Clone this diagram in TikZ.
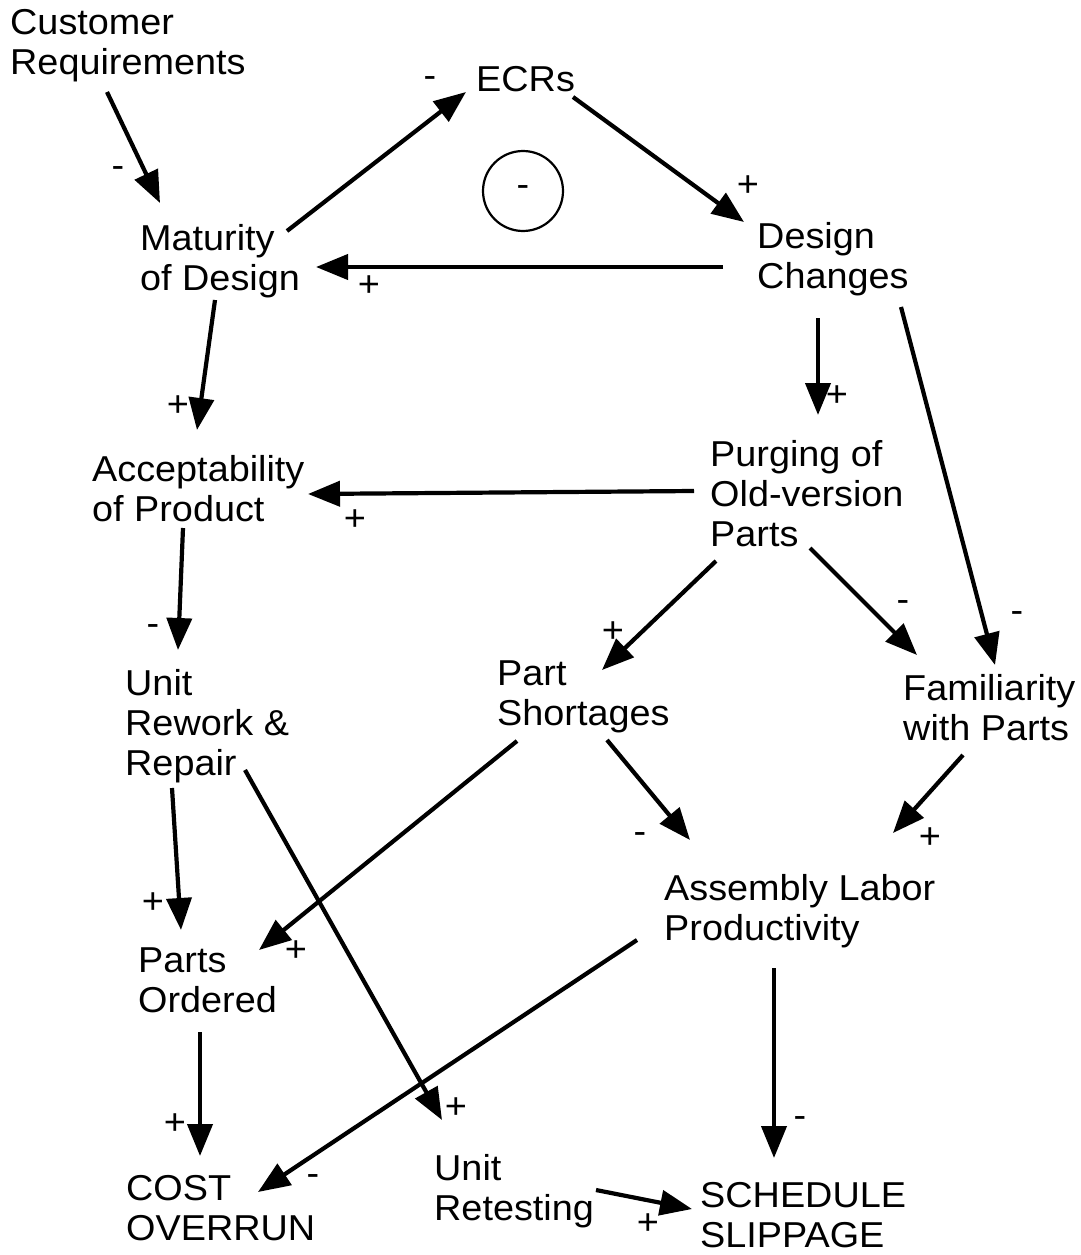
\documentclass[tikz,border=0pt]{standalone}
\usepackage{fontspec}
\setmainfont[FakeStretch=1.05]{Liberation Sans}
\usetikzlibrary{arrows.meta}
\begin{document}
\begin{tikzpicture}[x=1pt,y=-1pt,
  lbl/.style={inner sep=0pt,anchor=west,align=left,font=\fontsize{36}{40}\selectfont},
  sgn/.style={inner sep=0pt,font=\fontsize{36}{38}\selectfont},
  conn/.style={line width=4.2pt,-{Triangle[length=32pt,width=25pt]}}]
\useasboundingbox (0,0) rectangle (1081,1255);
% variables
\node[lbl] (cr)  at (10,46)    {Customer\\Requirements};
\node[lbl] (ecr) at (476,79)   {ECRs};
\node[lbl] (mat) at (140,261)  {Maturity\\of Design};
\node[lbl] (dc)  at (757,259)  {Design\\Changes};
\node[lbl] (acc) at (92,489)   {Acceptability\\of Product};
\node[lbl] (pur) at (710,494)  {Purging of\\Old-version\\Parts};
\node[lbl] (urr) at (125,726)  {Unit\\Rework \&\\Repair};
\node[lbl] (ps)  at (497,697)  {Part\\Shortages};
\node[lbl] (fam) at (903,708)  {Familiarity\\with Parts};
\node[lbl] (alp) at (664,911)  {Assembly Labor\\Productivity};
\node[lbl] (po)  at (138,980)  {Parts\\Ordered};
\node[lbl] (co)  at (126,1208) {COST\\OVERRUN};
\node[lbl] (ur)  at (434,1191) {Unit\\Retesting};
\node[lbl] (ss)  at (700,1215) {SCHEDULE\\SLIPPAGE};
% loop marker
\node[draw,circle,line width=2.2pt,minimum size=80pt,inner sep=0pt,sgn] (loop) at (523,191) {-};
% connectors
\draw[conn] ([shift={(97,46)}]cr.west)   -- ([shift={(20,-58)}]mat.west);
\draw[conn] ([shift={(147,-30)}]mat.west) -- ([shift={(-10,13)}]ecr.west);
\draw[conn] ([shift={(97,18)}]ecr.west)  -- ([shift={(-13,-37)}]dc.west);
\draw[conn] ([shift={(-34,8)}]dc.west)   -- ([shift={(176,6)}]mat.west);
\draw[conn] ([shift={(75,39)}]mat.west)  -- ([shift={(105,-59)}]acc.west);
\draw[conn] ([shift={(61,59)}]dc.west)   -- ([shift={(108,-79)}]pur.west);
\draw[conn] ([shift={(144,48)}]dc.west)  -- ([shift={(92,-43)}]fam.west);
\draw[conn] ([shift={(-16,-3)}]pur.west) -- ([shift={(216,5)}]acc.west);
\draw[conn] ([shift={(91,39)}]acc.west)  -- ([shift={(53,-76)}]urr.west);
\draw[conn] ([shift={(6,67)}]pur.west)   -- ([shift={(105,-27)}]ps.west);
\draw[conn] ([shift={(100,54)}]pur.west) -- ([shift={(14,-53)}]fam.west);
\draw[conn] ([shift={(110,43)}]ps.west)  -- ([shift={(26,-71)}]alp.west);
\draw[conn] ([shift={(60,47)}]fam.west)  -- ([shift={(229,-78)}]alp.west);
\draw[conn] ([shift={(20,44)}]ps.west)   -- ([shift={(121,-30)}]po.west);
\draw[conn] ([shift={(47,62)}]urr.west)  -- ([shift={(43,-50)}]po.west);
\draw[conn] ([shift={(120,44)}]urr.west) -- ([shift={(8,-71)}]ur.west);
\draw[conn] ([shift={(62,52)}]po.west)   -- ([shift={(74,-52)}]co.west);
\draw[conn] ([shift={(-27,29)}]alp.west) -- ([shift={(132,-16)}]co.west);
\draw[conn] ([shift={(110,57)}]alp.west) -- ([shift={(74,-57)}]ss.west);
\draw[conn] ([shift={(162,-1)}]ur.west)  -- ([shift={(-8,-6)}]ss.west);
% polarity signs
\node[sgn] (s1)  at (118,172)  {-};
\node[sgn] (s2)  at (430,82)   {-};
\node[sgn] (s3)  at (748,186)  {+};
\node[sgn] (s4)  at (369,286)  {+};
\node[sgn] (s5)  at (178,406)  {+};
\node[sgn] (s6)  at (837,396)  {+};
\node[sgn] (s7)  at (1017,617) {-};
\node[sgn] (s8)  at (355,520)  {+};
\node[sgn] (s9)  at (153,630)  {-};
\node[sgn] (s10) at (613,632)  {+};
\node[sgn] (s11) at (903,606)  {-};
\node[sgn] (s12) at (640,838)  {-};
\node[sgn] (s13) at (930,838)  {+};
\node[sgn] (s14) at (296,951)  {+};
\node[sgn] (s15) at (153,903)  {+};
\node[sgn] (s16) at (456,1108) {+};
\node[sgn] (s17) at (175,1124) {+};
\node[sgn] (s18) at (313,1180) {-};
\node[sgn] (s19) at (800,1122) {-};
\node[sgn] (s20) at (648,1224) {+};
\end{tikzpicture}
\end{document}
